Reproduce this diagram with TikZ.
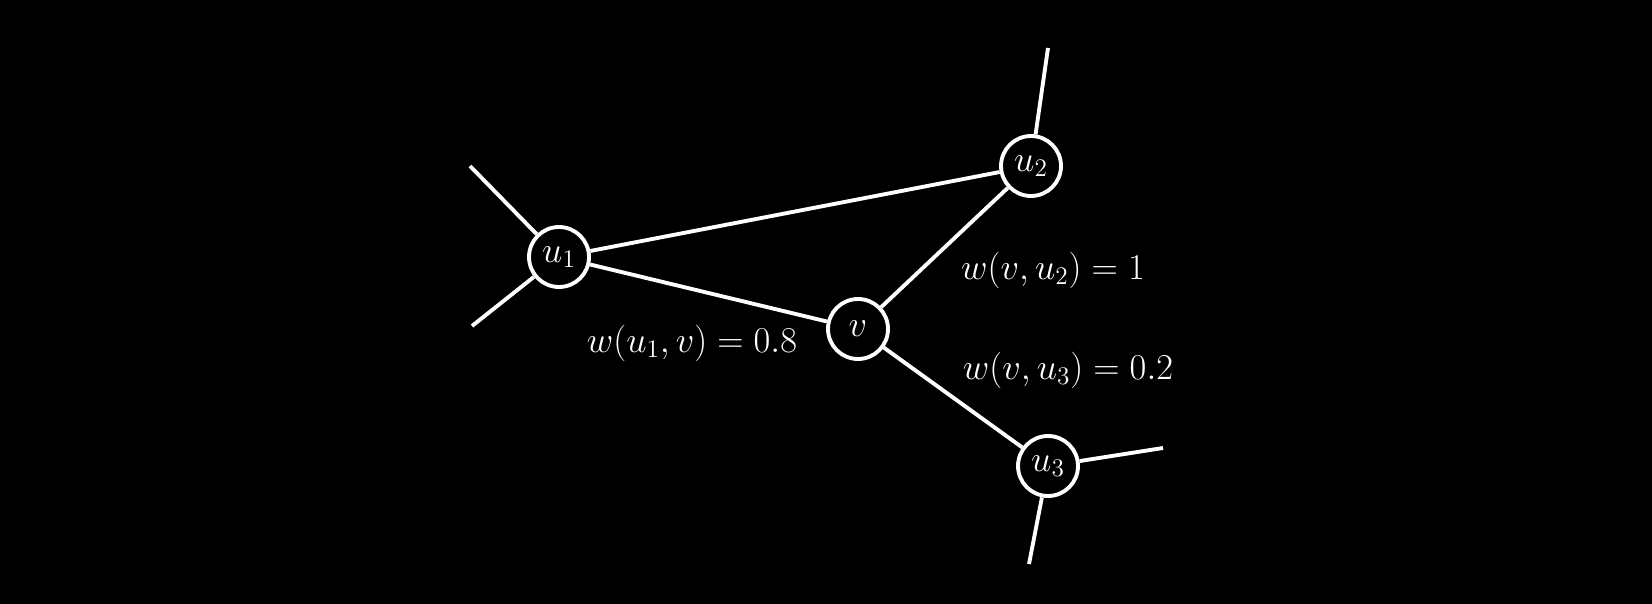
\documentclass[tikz,border=0pt]{standalone}
\usetikzlibrary{positioning}

\begin{document}
\begin{tikzpicture}[
    x=0.02cm, y=-0.02cm,
    vertex/.style={circle, draw=white, line width=2.2pt, minimum size=1.2cm, inner sep=0pt, text=white, font=\fontsize{20}{24}\selectfont},
    weight/.style={text=white, font=\fontsize{20}{24}\selectfont},
    edge/.style={draw=white, line width=2.2pt}
]

% Background
\fill[black] (0,0) rectangle (1652,604);
\useasboundingbox (0,0) rectangle (1652,604);

% Vertices
\node (u1) [vertex] at (559,257) {$u_1$};
\node (u2) [vertex] at (1031,166) {$u_2$};
\node (v) [vertex] at (858,329) {$v$};
\node (u3) [vertex] at (1048,466) {$u_3$};

% Free ends of the dangling edges
\coordinate (a1) at (470,166);
\coordinate (a2) at (472,326);
\coordinate (b1) at (1048,48);
\coordinate (c1) at (1163,448);
\coordinate (c2) at (1029,564);

% Weights
\node (w1) [weight] at (692,343) {$w(u_1,v)=0.8$};
\node (w2) [weight] at (1053,270) {$w(v,u_2)=1$};
\node (w3) [weight] at (1068,370) {$w(v,u_3)=0.2$};

% Edges
\draw [edge] (u1) -- (u2);
\draw [edge] (u1) -- (v);
\draw [edge] (v) -- (u2);
\draw [edge] (v) -- (u3);

\draw [edge] (u1) -- (a1);
\draw [edge] (u1) -- (a2);
\draw [edge] (u2) -- (b1);
\draw [edge] (u3) -- (c1);
\draw [edge] (u3) -- (c2);

\end{tikzpicture}
\end{document}
